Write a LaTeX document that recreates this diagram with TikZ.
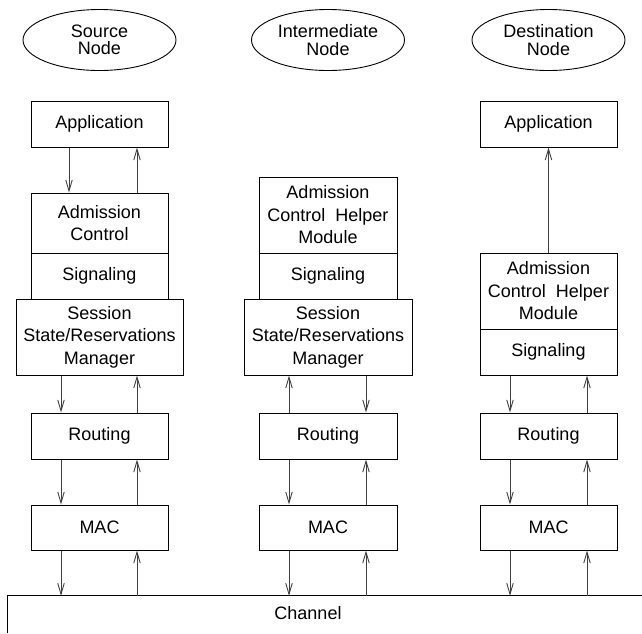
\documentclass[tikz,border=0pt]{standalone}
\usepackage{fontspec}
\setmainfont{Liberation Sans}
\usetikzlibrary{shapes.geometric,arrows.meta}
\begin{document}
\begin{tikzpicture}[x=1pt,y=-1pt,
  every node/.style={font=\fontsize{18}{22.5}\selectfont},
  nodeell/.style={draw, line width=0.9pt, ellipse, minimum width=153pt, minimum height=61pt, inner sep=0pt, align=center, font=\fontsize{18}{17.5}\selectfont},
  layer/.style={draw, line width=1pt, rectangle, minimum width=137pt, inner sep=0pt, align=center},
  wide/.style={layer, minimum width=167pt},
  arr/.style={draw=black!75, line width=0.9pt, -{Straight Barb[length=11pt,width=6.5pt,line width=0.9pt]}}
]
\useasboundingbox (0,0) rectangle (642,633);

% ellipses
\node[nodeell] (src) at (99.5,40) {Source\\Node};
\node[nodeell] (mid) at (328,40) {Intermediate\\Node};
\node[nodeell] (dst) at (548.5,40) {Destination\\Node};

% Source column
\node[layer, minimum height=46pt] (app1) at (99.5,124) {Application};
\node[layer, minimum height=60pt] (adm1) at (99.5,223) {Admission\\Control};
\node[layer, minimum height=46pt] (sig1) at (99.5,276) {Signaling};
\node[wide, minimum height=76pt] (ses1) at (99.5,337) {Session\\State/Reservations\\Manager};
\node[layer, minimum height=46pt] (rout1) at (99.5,436) {Routing};
\node[layer, minimum height=45pt] (mac1) at (99.5,527.5) {MAC};

% Intermediate column
\node[layer, minimum height=76pt, minimum width=138pt] (ach2) at (328,215) {Admission\\Control~~Helper\\Module};
\node[layer, minimum height=46pt, minimum width=138pt] (sig2) at (328,276) {Signaling};
\node[wide, minimum height=76pt, minimum width=168pt] (ses2) at (328,337) {Session\\State/Reservations\\Manager};
\node[layer, minimum height=46pt, minimum width=138pt] (rout2) at (328,436) {Routing};
\node[layer, minimum height=45pt, minimum width=138pt] (mac2) at (328,527.5) {MAC};

% Destination column
\node[layer, minimum height=46pt] (app3) at (548.5,124) {Application};
\node[layer, minimum height=76pt] (ach3) at (548.5,291) {Admission\\Control~~Helper\\Module};
\node[layer, minimum height=46pt] (sig3) at (548.5,352) {Signaling};
\node[layer, minimum height=46pt] (rout3) at (548.5,436) {Routing};
\node[layer, minimum height=45pt] (mac3) at (548.5,527.5) {MAC};

% Channel
\node[inner sep=0pt, minimum width=634pt, minimum height=37pt] (chan) at (325,614.5) {};
\draw[line width=1pt] (chan.south west) -- (chan.north west) -- (chan.north east);
\node (chanlbl) at (308,613) {Channel};

% Source arrows
\draw[arr] ([xshift=-30.5pt]app1.south) -- ([xshift=-30.5pt]adm1.north);
\draw[arr] ([xshift=37.5pt]adm1.north) -- ([xshift=37.5pt]app1.south);
\draw[arr] ([xshift=-38.5pt]ses1.south) -- ([xshift=-38.5pt]rout1.north);
\draw[arr] ([xshift=37.5pt]rout1.north) -- ([xshift=37.5pt]ses1.south);
\draw[arr] ([xshift=-38.5pt]rout1.south) -- ([xshift=-38.5pt]mac1.north);
\draw[arr] ([xshift=37.5pt]mac1.north) -- ([xshift=37.5pt]rout1.south);
\draw[arr] ([xshift=-38.5pt]mac1.south) -- ([xshift=-38.5pt]mac1.south |- chan.north);
\draw[arr] ([xshift=37.5pt]mac1.south |- chan.north) -- ([xshift=37.5pt]mac1.south);

% Intermediate arrows
\draw[arr] ([xshift=-39pt]rout2.north) -- ([xshift=-39pt]ses2.south);
\draw[arr] ([xshift=38pt]ses2.south) -- ([xshift=38pt]rout2.north);
\draw[arr] ([xshift=-39pt]rout2.south) -- ([xshift=-39pt]mac2.north);
\draw[arr] ([xshift=38pt]mac2.north) -- ([xshift=38pt]rout2.south);
\draw[arr] ([xshift=-39pt]mac2.south) -- ([xshift=-39pt]mac2.south |- chan.north);
\draw[arr] ([xshift=38pt]mac2.south |- chan.north) -- ([xshift=38pt]mac2.south);

% Destination arrows
\draw[arr] (ach3.north) -- (app3.south);
\draw[arr] ([xshift=-38.5pt]sig3.south) -- ([xshift=-38.5pt]rout3.north);
\draw[arr] ([xshift=38.5pt]rout3.north) -- ([xshift=38.5pt]sig3.south);
\draw[arr] ([xshift=-38.5pt]rout3.south) -- ([xshift=-38.5pt]mac3.north);
\draw[arr] ([xshift=38.5pt]mac3.north) -- ([xshift=38.5pt]rout3.south);
\draw[arr] ([xshift=-38.5pt]mac3.south) -- ([xshift=-38.5pt]mac3.south |- chan.north);
\draw[arr] ([xshift=38.5pt]mac3.south |- chan.north) -- ([xshift=38.5pt]mac3.south);
\end{tikzpicture}
\end{document}
